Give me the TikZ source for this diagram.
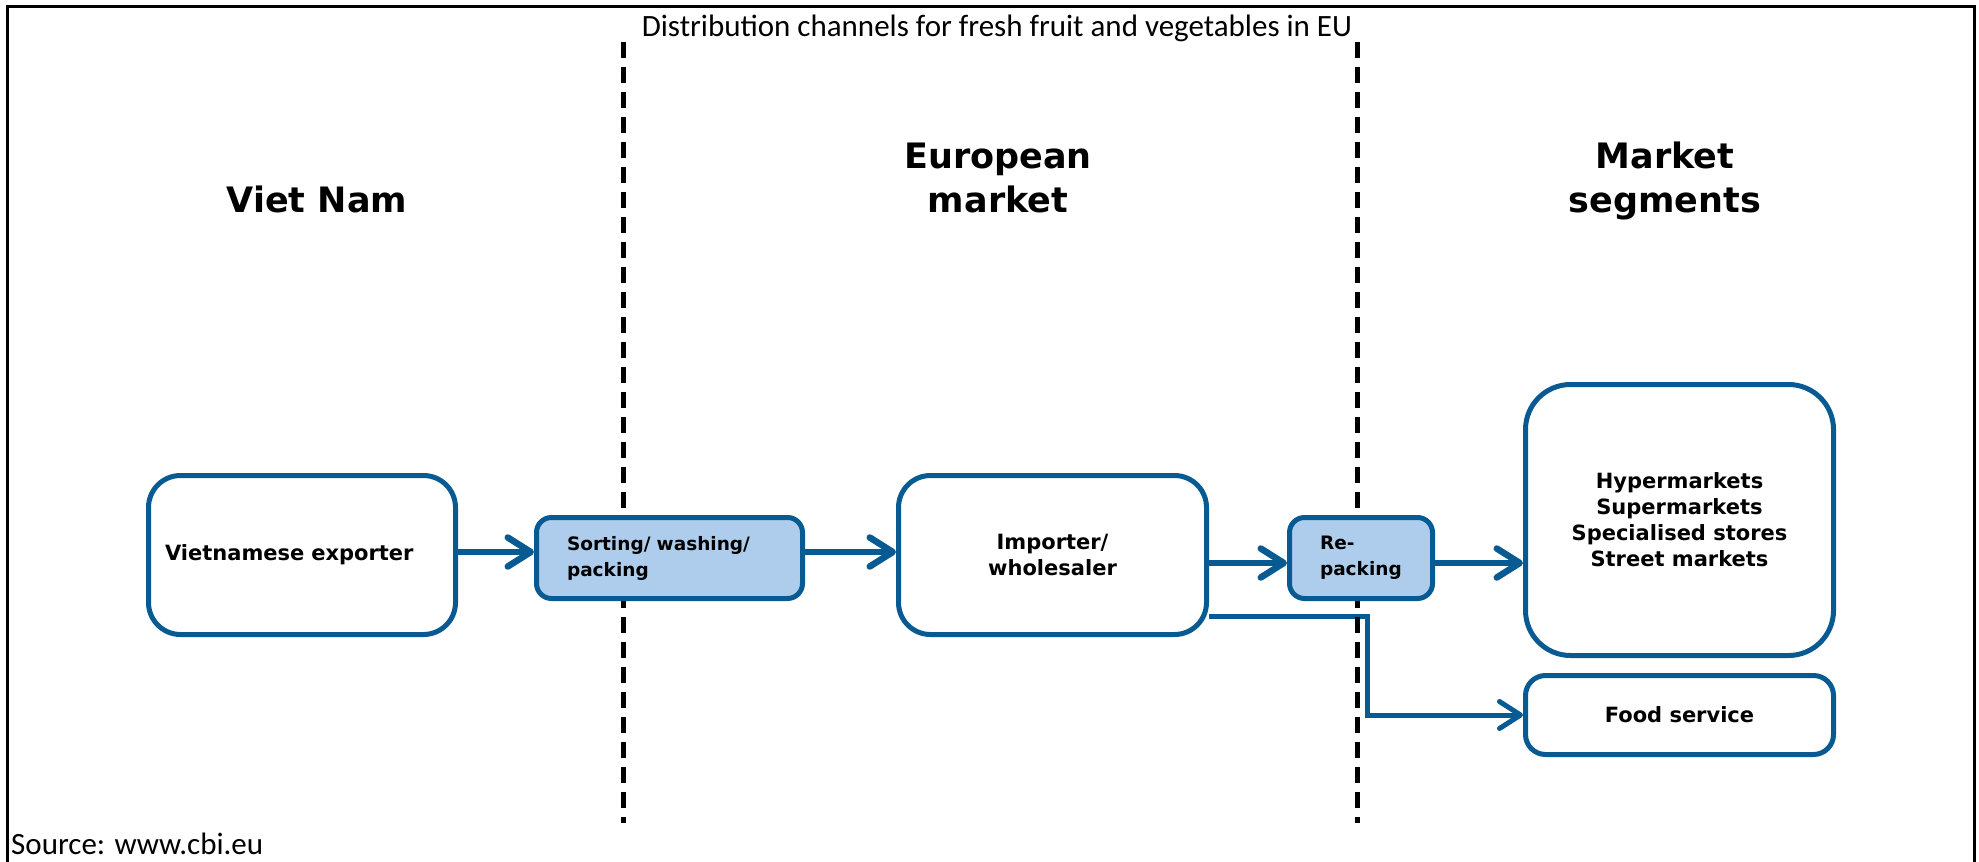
\documentclass[tikz,border=0pt]{standalone}
\usepackage{fontspec}
\setmainfont{Carlito}
\newfontfamily\vfont{DejaVu Sans}
\usetikzlibrary{arrows.meta}

\definecolor{flowblue}{RGB}{8,90,146}
\definecolor{stepfill}{RGB}{174,205,236}

\pgfdeclarelayer{links}
\pgfdeclarelayer{dividers}
\pgfsetlayers{links,dividers,main}

\begin{document}
\begin{tikzpicture}[x=1pt,y=-1pt,
  whitebox/.style={draw=flowblue, line width=5pt, fill=white, inner sep=0pt,
    font=\vfont\bfseries\fontsize{21}{26}\selectfont},
  bluebox/.style={draw=flowblue, line width=5pt, fill=stepfill, inner sep=0pt,
    rounded corners=15pt, font=\vfont\bfseries\fontsize{18.5}{26}\selectfont},
  heading/.style={font=\vfont\bfseries\fontsize{35}{44}\selectfont, inner sep=0pt, align=center},
  flow/.style={draw=flowblue, line width=6.5pt,
    -{Straight Barb[length=23pt, width=29pt, round]}},
  branch/.style={draw=flowblue, line width=5pt,
    -{Straight Barb[length=21pt, width=27pt, round]}},
  divider/.style={line width=5pt, dash pattern=on 16pt off 9pt},
]
\useasboundingbox (0,0) rectangle (1979,862);

% outer frame, open at the bottom
\draw[line width=2.5pt] (7.5,862) -- (7.5,6.7) -- (1974.5,6.7) -- (1974.5,862);

% title and source
\node[anchor=base, inner sep=0pt, font=\fontsize{31}{36}\selectfont] (title) at (997,36)
  {Distribution channels for fresh fruit and vegetables in EU};
\node[anchor=base west, inner sep=0pt, font=\fontsize{31}{36}\selectfont] (src) at (11,854)
  {Source: www.cbi.eu};

% column headings (base anchor sits on the last line)
\node[heading, anchor=base] (hvn) at (317,212) {Viet Nam};
\node[heading, anchor=base] (heu) at (998,212) {European\\market};
\node[heading, anchor=base] (hms) at (1665,212) {Market\\segments};

% boxes (sizes measured on the border centre line)
\node[whitebox, rounded corners=32pt, minimum width=307pt, minimum height=159pt,
      text width=274pt, align=left] (exp) at (302,555) {Vietnamese exporter};
\node[bluebox, minimum width=266pt, minimum height=81pt,
      text width=205pt, align=left] (sort) at (669.5,558) {Sorting/ washing/\\packing};
\node[whitebox, rounded corners=32pt, minimum width=308pt, minimum height=159pt,
      align=center] (imp) at (1052.5,555) {Importer/\\wholesaler};
\node[bluebox, minimum width=143pt, minimum height=81pt,
      text width=82pt, align=left] (rep) at (1361,558) {Re-\\packing};
\node[whitebox, rounded corners=45pt, minimum width=308pt, minimum height=271pt,
      align=center] (hyp) at (1679.5,520)
  {Hypermarkets\\Supermarkets\\Specialised stores\\Street markets};
\node[whitebox, rounded corners=20pt, minimum width=308pt, minimum height=79pt,
      align=center] (food) at (1679.5,715) {Food service};

% connectors, underneath everything else
\begin{pgfonlayer}{links}
\coordinate (bend) at (1367,616);
\draw[flow] ([yshift=3pt]exp.east) -- ([yshift=6pt]sort.west);
\draw[flow] ([yshift=6pt]sort.east) -- ([yshift=3pt]imp.west);
\draw[flow] ([yshift=-8pt]imp.east) -- ([yshift=-5pt]rep.west);
\draw[flow] ([yshift=-5pt]rep.east) -- ([yshift=-43pt]hyp.west);
\draw[branch] (imp.east |- bend) -- (bend) |- (food.west);
\end{pgfonlayer}

% column dividers: over the connectors, hidden behind the step boxes
\begin{pgfonlayer}{dividers}
\draw[divider] (623.5,42) -- (623.5,823);
\draw[divider] (1357,42) -- (1357,823);
\end{pgfonlayer}
\end{tikzpicture}
\end{document}
